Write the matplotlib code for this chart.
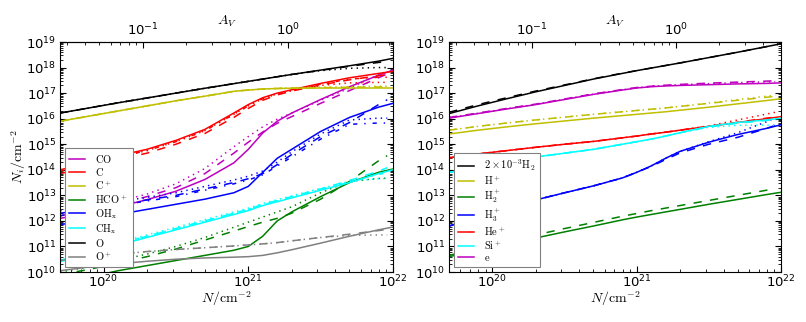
import numpy as np
import matplotlib
matplotlib.use('Agg')
import matplotlib.pyplot as plt
from matplotlib.font_manager import FontProperties
from matplotlib.ticker import LogLocator, NullFormatter, FixedLocator

# ---------------- data (log10 values) ----------------
logN_full = [19.70, 19.90, 20.10, 20.30, 20.50, 20.70, 20.90, 21.00, 21.10, 21.20, 21.30, 21.50, 21.70, 21.90, 22.00]
logN_mod = [19.70, 19.90, 20.10, 20.30, 20.50, 20.70, 20.90, 21.00, 21.10, 21.20, 21.30, 21.50, 21.70, 21.90, 21.96]

# left panel
CO_solid = [12.10, 12.30, 12.55, 12.83, 13.16, 13.62, 14.27, 14.80, 15.44, 15.90, 16.22, 16.75, 17.25, 17.70, 17.90]
CO_dashed = [12.20, 12.40, 12.65, 12.95, 13.30, 13.85, 14.65, 15.08, 15.48, 15.82, 16.08, 16.60, 17.10, 17.60, 17.75]
CO_dotted = [12.30, 12.50, 12.75, 13.05, 13.45, 14.05, 14.90, 15.30, 15.68, 15.98, 16.22, 16.72, 17.20, 17.72, 17.85]

C_solid = [14.00, 14.25, 14.55, 14.80, 15.15, 15.58, 16.22, 16.55, 16.82, 17.00, 17.13, 17.38, 17.60, 17.77, 17.85]
C_dashed = [13.85, 14.10, 14.40, 14.65, 15.00, 15.42, 16.05, 16.40, 16.72, 16.93, 17.08, 17.32, 17.52, 17.68, 17.72]
C_dotted = [13.95, 14.20, 14.50, 14.75, 15.10, 15.53, 16.17, 16.50, 16.78, 16.97, 17.10, 17.30, 17.40, 17.42, 17.42]
C_dashdot = [13.95, 14.20, 14.50, 14.75, 15.10, 15.53, 16.17, 16.50, 16.78, 16.97, 17.10, 17.35, 17.55, 17.62, 17.62]

Cp_solid = [15.90, 16.10, 16.30, 16.50, 16.70, 16.88, 17.07, 17.12, 17.16, 17.18, 17.19, 17.20, 17.20, 17.20, 17.20]
Cp_dashed = [15.90, 16.10, 16.30, 16.50, 16.70, 16.88, 17.07, 17.12, 17.16, 17.18, 17.20, 17.21, 17.23, 17.24, 17.25]
Cp_dotted = [15.90, 16.10, 16.30, 16.50, 16.70, 16.88, 17.07, 17.12, 17.16, 17.19, 17.21, 17.23, 17.25, 17.27, 17.27]

HCOp_solid = [9.60, 9.80, 10.05, 10.25, 10.45, 10.65, 10.85, 11.00, 11.40, 12.00, 12.35, 12.95, 13.50, 13.90, 14.03]
HCOp_dashed = [9.90, 10.10, 10.35, 10.60, 10.90, 11.25, 11.60, 11.78, 11.95, 12.10, 12.30, 12.85, 13.55, 14.35, 14.55]
HCOp_dotted = [10.00, 10.20, 10.45, 10.70, 11.00, 11.35, 11.75, 11.95, 12.15, 12.35, 12.55, 13.10, 13.55, 13.66, 13.67]

OH_solid = [11.85, 12.05, 12.25, 12.45, 12.65, 12.85, 13.10, 13.35, 13.90, 14.45, 14.80, 15.50, 16.05, 16.45, 16.60]
OH_dashed = [12.30, 12.45, 12.65, 12.82, 13.00, 13.25, 13.50, 13.65, 13.85, 14.20, 14.60, 15.30, 15.85, 16.55, 16.74]
OH_dotted = [12.40, 12.55, 12.75, 12.92, 13.10, 13.35, 13.60, 13.75, 13.95, 14.30, 14.70, 15.40, 15.95, 16.02, 16.02]
OH_dashdot = [12.20, 12.40, 12.60, 12.78, 12.95, 13.20, 13.45, 13.60, 13.80, 14.15, 14.50, 15.20, 15.78, 15.83, 15.83]

CH_solid = [10.40, 10.75, 11.05, 11.35, 11.65, 11.95, 12.25, 12.40, 12.60, 12.75, 12.90, 13.20, 13.50, 13.85, 14.00]
CH_dashed = [10.45, 10.80, 11.10, 11.40, 11.70, 12.00, 12.30, 12.45, 12.65, 12.80, 12.95, 13.25, 13.58, 13.95, 14.08]
CH_dotted = [10.50, 10.85, 11.15, 11.45, 11.75, 12.05, 12.35, 12.50, 12.68, 12.83, 12.98, 13.27, 13.55, 13.65, 13.66]
CH_dashdot = [10.45, 10.80, 11.10, 11.40, 11.70, 12.00, 12.30, 12.45, 12.63, 12.78, 12.93, 13.22, 13.52, 13.82, 13.88]

O_solid = [16.22, 16.42, 16.62, 16.81, 17.00, 17.19, 17.37, 17.46, 17.55, 17.64, 17.73, 17.90, 18.07, 18.25, 18.36]
O_dashed = [16.22, 16.42, 16.62, 16.81, 17.00, 17.19, 17.37, 17.46, 17.55, 17.64, 17.73, 17.89, 18.05, 18.20, 18.24]
O_dotted = [16.22, 16.42, 16.62, 16.81, 17.00, 17.19, 17.37, 17.46, 17.55, 17.64, 17.73, 17.88, 17.97, 18.00, 18.00]

Op_solid = [10.05, 10.20, 10.32, 10.42, 10.50, 10.55, 10.58, 10.60, 10.65, 10.75, 10.87, 11.13, 11.40, 11.65, 11.76]
Op_dashed = [10.45, 10.60, 10.70, 10.80, 10.88, 10.95, 11.02, 11.06, 11.10, 11.15, 11.22, 11.35, 11.48, 11.62, 11.66]
Op_dotted = [10.45, 10.60, 10.70, 10.80, 10.88, 10.95, 11.02, 11.06, 11.10, 11.15, 11.22, 11.35, 11.43, 11.45, 11.45]

# right panel
H2_solid = [16.20, 16.50, 16.78, 17.05, 17.30, 17.55, 17.77, 17.88, 17.98, 18.08, 18.18, 18.39, 18.60, 18.82, 18.93]
H2_dashed = [16.25, 16.55, 16.82, 17.08, 17.32, 17.56, 17.78, 17.88, 17.98, 18.08, 18.18, 18.39, 18.60, 18.82, 18.87]

Hp_solid = [15.40, 15.55, 15.68, 15.80, 15.91, 16.02, 16.12, 16.17, 16.22, 16.27, 16.33, 16.45, 16.58, 16.71, 16.78]
Hp_dashed = [15.55, 15.70, 15.83, 15.95, 16.06, 16.17, 16.27, 16.32, 16.37, 16.42, 16.48, 16.60, 16.72, 16.84, 16.87]
Hp_dotted = [15.55, 15.70, 15.83, 15.95, 16.06, 16.17, 16.27, 16.32, 16.37, 16.42, 16.48, 16.61, 16.75, 16.88, 16.92]

H2p_solid = [10.60, 10.85, 11.10, 11.33, 11.57, 11.80, 12.04, 12.15, 12.25, 12.35, 12.45, 12.65, 12.84, 13.03, 13.12]
H2p_dashed = [10.65, 10.92, 11.20, 11.45, 11.70, 11.94, 12.18, 12.29, 12.40, 12.50, 12.60, 12.80, 13.00, 13.20, 13.27]

H3p_solid = [11.80, 12.15, 12.50, 12.82, 13.10, 13.37, 13.68, 13.90, 14.15, 14.45, 14.72, 15.08, 15.38, 15.62, 15.76]
H3p_dashed = [11.80, 12.15, 12.50, 12.82, 13.10, 13.37, 13.68, 13.90, 14.13, 14.40, 14.66, 15.00, 15.27, 15.62, 15.74]
H3p_dotted = [11.80, 12.15, 12.50, 12.82, 13.10, 13.37, 13.68, 13.90, 14.15, 14.45, 14.72, 15.10, 15.45, 15.88, 16.03]

Hep_solid = [14.47, 14.62, 14.75, 14.88, 15.00, 15.11, 15.25, 15.32, 15.40, 15.47, 15.55, 15.70, 15.85, 16.00, 16.08]
Hep_dashed = [14.47, 14.62, 14.75, 14.88, 15.00, 15.11, 15.25, 15.32, 15.40, 15.47, 15.55, 15.70, 15.86, 16.02, 16.06]
Hep_dotted = [14.47, 14.62, 14.75, 14.88, 15.00, 15.11, 15.25, 15.32, 15.40, 15.47, 15.55, 15.72, 15.95, 16.18, 16.25]

Sip_solid = [13.90, 14.10, 14.30, 14.50, 14.65, 14.80, 15.00, 15.10, 15.20, 15.32, 15.45, 15.70, 15.85, 15.95, 16.02]
Sip_dashed = [13.90, 14.10, 14.30, 14.50, 14.65, 14.80, 15.00, 15.10, 15.20, 15.32, 15.45, 15.68, 15.82, 15.93, 15.96]
Sip_dotted = [13.90, 14.10, 14.30, 14.50, 14.65, 14.80, 15.00, 15.10, 15.20, 15.32, 15.45, 15.66, 15.74, 15.75, 15.75]

e_solid = [16.02, 16.20, 16.38, 16.55, 16.75, 16.95, 17.12, 17.20, 17.25, 17.28, 17.30, 17.33, 17.36, 17.38, 17.40]
e_dashed = [16.05, 16.22, 16.40, 16.57, 16.77, 16.97, 17.14, 17.22, 17.27, 17.31, 17.34, 17.39, 17.43, 17.47, 17.48]
e_dotted = [16.04, 16.21, 16.39, 16.56, 16.76, 16.96, 17.13, 17.21, 17.26, 17.30, 17.33, 17.37, 17.41, 17.44, 17.45]

left_labels = [r'$\mathrm{CO}$', r'$\mathrm{C}$', r'$\mathrm{C^+}$', r'$\mathrm{HCO^+}$',
               r'$\mathrm{OH_x}$', r'$\mathrm{CH_x}$', r'$\mathrm{O}$', r'$\mathrm{O^+}$']
right_labels = [r'$2\times10^{-3}\mathrm{H_2}$', r'$\mathrm{H^+}$', r'$\mathrm{H_2^+}$', r'$\mathrm{H_3^+}$',
                r'$\mathrm{He^+}$', r'$\mathrm{Si^+}$', r'$\mathrm{e}$']

AV_major = [0.1, 1.0]
AV_minor = [0.03, 0.04, 0.05, 0.06, 0.07, 0.08, 0.09, 0.2, 0.3, 0.4, 0.5, 0.6, 0.7, 0.8, 0.9, 2.0, 3.0, 4.0, 5.0]
AV_PER_N = 1.0 / 1.87e21

# ---------------- styling ----------------
plt.rcParams['lines.dashed_pattern'] = [6, 6]
plt.rcParams['lines.dotted_pattern'] = [1, 3]
plt.rcParams['lines.dashdot_pattern'] = [3, 5, 1, 5]
plt.rcParams['lines.scale_dashes'] = False
plt.rcParams['font.size'] = 9

fig = plt.figure(figsize=(8.06, 3.22), dpi=100)
axL = fig.add_axes([60 / 806, 1 - 272 / 322, 333 / 806, 230 / 322])
axR = fig.add_axes([449 / 806, 1 - 272 / 322, 332 / 806, 230 / 322])

NF = 10 ** np.array(logN_full)
NM = 10 ** np.array(logN_mod)
LW = 1.1


def draw(ax, color, label, solid, dashed=None, dotted=None, dashdot=None):
    if dashed is not None:
        ax.plot(NM, 10 ** np.array(dashed), color=color, ls='--', lw=LW)
    if dotted is not None:
        ax.plot(NM, 10 ** np.array(dotted), color=color, ls=':', lw=LW)
    if dashdot is not None:
        ax.plot(NM, 10 ** np.array(dashdot), color=color, ls='-.', lw=LW)
    ax.plot(NF, 10 ** np.array(solid), color=color, ls='-', lw=LW, label=label)


draw(axL, 'm', left_labels[0], CO_solid, CO_dashed, CO_dotted)
draw(axL, 'r', left_labels[1], C_solid, C_dashed, C_dotted, C_dashdot)
draw(axL, 'y', left_labels[2], Cp_solid, Cp_dashed, Cp_dotted)
draw(axL, 'g', left_labels[3], HCOp_solid, HCOp_dashed, HCOp_dotted)
draw(axL, 'b', left_labels[4], OH_solid, OH_dashed, OH_dotted, OH_dashdot)
draw(axL, 'cyan', left_labels[5], CH_solid, CH_dashed, CH_dotted, CH_dashdot)
draw(axL, 'k', left_labels[6], O_solid, O_dashed, O_dotted)
draw(axL, 'gray', left_labels[7], Op_solid, Op_dashed, Op_dotted)

draw(axR, 'k', right_labels[0], H2_solid, H2_dashed)
draw(axR, 'y', right_labels[1], Hp_solid, Hp_dashed, Hp_dotted)
draw(axR, 'g', right_labels[2], H2p_solid, H2p_dashed)
draw(axR, 'b', right_labels[3], H3p_solid, H3p_dashed, H3p_dotted)
draw(axR, 'r', right_labels[4], Hep_solid, Hep_dashed, Hep_dotted)
draw(axR, 'cyan', right_labels[5], Sip_solid, Sip_dashed, Sip_dotted)
draw(axR, 'm', right_labels[6], e_solid, e_dashed, e_dotted)

cm_font = FontProperties(size=10, math_fontfamily='cm')
leg_font = FontProperties(size=7.5, math_fontfamily='cm')

for i, ax in enumerate([axL, axR]):
    ax.set_xscale('log')
    ax.set_yscale('log')
    ax.set_xlim(5e19, 1e22)
    ax.set_ylim(1e10, 1e19)
    ax.yaxis.set_major_locator(LogLocator(base=10, numticks=20))
    ax.yaxis.set_minor_locator(LogLocator(base=10, subs=np.arange(2, 10), numticks=50))
    ax.yaxis.set_minor_formatter(NullFormatter())
    ax.xaxis.set_minor_formatter(NullFormatter())
    ax.tick_params(which='both', direction='in', right=True, top=False)
    ax.tick_params(which='major', length=4, width=0.8, labelsize=9.5, pad=2.5)
    ax.tick_params(axis='x', which='major', pad=1.5)
    ax.tick_params(which='minor', length=2, width=0.6)
    ax.set_xlabel(r'$N/\mathrm{cm}^{-2}$', fontproperties=cm_font)
    ax.xaxis.set_label_coords(0.5, -0.076)
    sec = ax.secondary_xaxis('top', functions=(lambda n: n * AV_PER_N, lambda a: a / AV_PER_N))
    sec.xaxis.set_major_locator(FixedLocator(AV_major))
    sec.xaxis.set_minor_locator(FixedLocator(AV_minor))
    sec.xaxis.set_minor_formatter(NullFormatter())
    sec.tick_params(which='both', direction='in')
    sec.tick_params(which='major', length=4, width=0.8, labelsize=9.5, pad=2.5)
    sec.tick_params(which='minor', length=2, width=0.6)
    sec.set_xlabel(r'$A_V$', fontproperties=cm_font, labelpad=-2)
    leg = ax.legend(loc='lower left', prop=leg_font, fancybox=False, framealpha=1,
                    edgecolor='0.5', handlelength=1.5, handletextpad=1.0,
                    labelspacing=0.1, borderpad=0.45, borderaxespad=0.45)
    leg.get_frame().set_linewidth(0.8)

axL.set_ylabel(r'$N_i/\mathrm{cm}^{-2}$', fontproperties=cm_font)
axL.yaxis.set_label_coords(-0.095, 0.5)

fig.savefig('out.png', dpi=100)
